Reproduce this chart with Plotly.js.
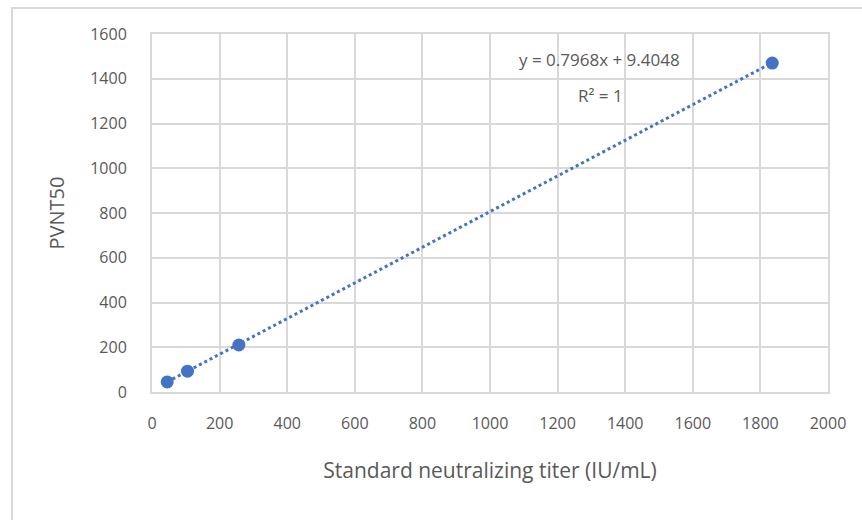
<!DOCTYPE html>
<html>
<head>
<meta charset="utf-8">
<script src="https://cdn.plot.ly/plotly-3.0.1.min.js"></script>
<style>
  html, body { margin: 0; padding: 0; background: #ffffff; }
  #wrap { position: relative; width: 862px; height: 520px; overflow: hidden; }
  #chart { position: absolute; left: 0; top: 0; width: 862px; height: 520px; }
  #frame {
    position: absolute; left: 11px; top: 7px; width: 900px; height: 600px;
    border-left: 2px solid #d9d9d9; border-top: 2px solid #d9d9d9;
    pointer-events: none;
  }
</style>
</head>
<body>
<div id="wrap">
  <div id="chart"></div>
  <div id="frame"></div>
</div>
<script>
// Standard neutralizing titer (IU/mL) vs. PVNT50
const titerIU = [45, 105, 257, 1835];
const pvnt50 = [45, 93, 210, 1470];

// Linear trendline coefficients
const slope = 0.7968;
const intercept = 9.4048;
const rSquared = 1;

const xTicks = [0, 200, 400, 600, 800, 1000, 1200, 1400, 1600, 1800, 2000];
const yTicks = [0, 200, 400, 600, 800, 1000, 1200, 1400, 1600];

const blue = '#4472c4';
const grid = '#d9d9d9';
const textGray = '#595959';
const fontFam = 'Open Sans, Roboto, sans-serif';

const xMin = Math.min(...titerIU);
const xMax = Math.max(...titerIU);
const trendX = [xMin, xMax];
const trendY = trendX.map(v => slope * v + intercept);

const traces = [
  {
    x: trendX, y: trendY, type: 'scatter', mode: 'lines',
    line: { color: blue, width: 3, dash: 'dot' },
    hoverinfo: 'skip', showlegend: false
  },
  {
    x: titerIU, y: pvnt50, type: 'scatter', mode: 'markers',
    marker: { color: blue, size: 13 },
    showlegend: false
  }
];

const axisCommon = {
  showgrid: true, gridcolor: grid, gridwidth: 2,
  showline: true, linecolor: grid, linewidth: 2, mirror: true,
  zeroline: false,
  tickfont: { family: fontFam, size: 16, color: textGray },
  ticks: '', fixedrange: true
};

const layout = {
  width: 862, height: 520,
  margin: { l: 152, r: 34, t: 34, b: 128 },
  paper_bgcolor: 'rgba(0,0,0,0)',
  plot_bgcolor: '#ffffff',
  xaxis: Object.assign({}, axisCommon, {
    range: [0, 2000], tickvals: xTicks, ticktext: xTicks.map(String),
    ticklabelstandoff: 16,
    title: { text: 'Standard neutralizing titer (IU/mL)', font: { family: fontFam, size: 21, color: textGray }, standoff: 30 }
  }),
  yaxis: Object.assign({}, axisCommon, {
    range: [0, 1600], tickvals: yTicks, ticktext: yTicks.map(String),
    ticklabelstandoff: 20,
    title: { text: 'PVNT50', font: { family: fontFam, size: 20, color: textGray }, standoff: 20 }
  }),
  annotations: [
    {
      xref: 'x', yref: 'y', x: 1325, y: 1488, showarrow: false,
      text: 'y = ' + slope.toFixed(4) + 'x + ' + intercept.toFixed(4),
      font: { family: fontFam, size: 17, color: textGray }, xanchor: 'center', yanchor: 'middle'
    },
    {
      xref: 'x', yref: 'y', x: 1328, y: 1327, showarrow: false,
      text: 'R² = ' + rSquared,
      font: { family: fontFam, size: 17, color: textGray }, xanchor: 'center', yanchor: 'middle'
    }
  ]
};

Plotly.newPlot('chart', traces, layout, { displayModeBar: false, staticPlot: true });
</script>
</body>
</html>
